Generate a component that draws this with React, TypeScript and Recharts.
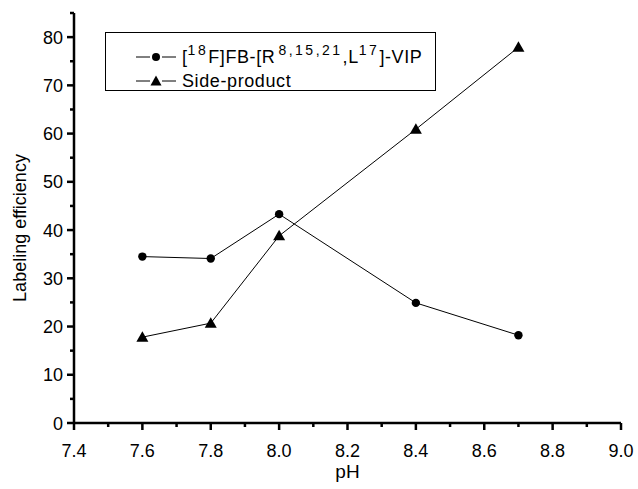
import { Label, Line, LineChart, XAxis, YAxis } from 'recharts'

const phValues = [7.6, 7.8, 8.0, 8.4, 8.7]
const vipEfficiency = [34.5, 34.1, 43.3, 24.9, 18.2]
const sideProduct = [17.8, 20.7, 38.8, 60.9, 77.9]

const xTicks = [7.4, 7.5, 7.6, 7.7, 7.8, 7.9, 8.0, 8.1, 8.2, 8.3, 8.4, 8.5, 8.6, 8.7, 8.8, 8.9, 9.0]
const yTicks = [0, 5, 10, 15, 20, 25, 30, 35, 40, 45, 50, 55, 60, 65, 70, 75, 80, 85]

const data = phValues.map((ph, i) => ({
  ph,
  vip: vipEfficiency[i],
  side: sideProduct[i],
}))

const FONT = "Arial, 'Liberation Sans', sans-serif"

function XTick(props: any) {
  const { x, y, payload } = props
  const v = Number(payload.value)
  const major = Math.round(v * 10) % 2 === 0
  return (
    <g>
      <line x1={x} x2={x} y1={y} y2={y + (major ? 7 : 4)} stroke="#000" strokeWidth={2.5} />
      {major && (
        <text x={x} y={y + 34} textAnchor="middle" fontSize={18} fontFamily={FONT} fill="#000">
          {v.toFixed(1)}
        </text>
      )}
    </g>
  )
}

function YTick(props: any) {
  const { x, y, payload } = props
  const v = Number(payload.value)
  const major = v % 10 === 0
  return (
    <g>
      <line x1={x} x2={x - (major ? 7 : 4)} y1={y} y2={y} stroke="#000" strokeWidth={2.5} />
      {major && (
        <text x={x - 11} y={y + 6.5} textAnchor="end" fontSize={18} fontFamily={FONT} fill="#000">
          {v}
        </text>
      )}
    </g>
  )
}

function CircleDot(props: any) {
  const { cx, cy } = props
  if (cx == null || cy == null) return null
  return <circle cx={cx} cy={cy} r={4.2} fill="#000" />
}

function TriangleDot(props: any) {
  const { cx, cy } = props
  if (cx == null || cy == null) return null
  return <polygon points={`${cx},${cy - 6} ${cx - 6},${cy + 4.5} ${cx + 6},${cy + 4.5}`} fill="#000" />
}

function LegendSwatch({ shape }: { shape: 'circle' | 'triangle' }) {
  return (
    <svg width={40} height={14} style={{ display: 'block' }}>
      <line x1={0} x2={14} y1={7} y2={7} stroke="#000" strokeWidth={1} />
      <line x1={26} x2={40} y1={7} y2={7} stroke="#000" strokeWidth={1} />
      {shape === 'circle' ? (
        <circle cx={20} cy={7} r={4} fill="#000" />
      ) : (
        <polygon points="20,1.5 14.5,11.5 25.5,11.5" fill="#000" />
      )}
    </svg>
  )
}

const sup: React.CSSProperties = { fontSize: 14, position: 'relative', top: -8, letterSpacing: 2.5 }

function ChartLegend() {
  const row: React.CSSProperties = {
    position: 'absolute',
    left: 30,
    height: 24,
    display: 'flex',
    alignItems: 'center',
    whiteSpace: 'nowrap',
  }
  return (
    <div
      style={{
        position: 'absolute',
        left: 105,
        top: 32,
        width: 331,
        height: 59,
        boxSizing: 'border-box',
        border: '1.5px solid #000',
        fontFamily: FONT,
        fontSize: 18,
        color: '#000',
        background: '#fff',
      }}
    >
      <div style={{ ...row, top: 12 }}>
        <LegendSwatch shape="circle" />
        <span style={{ marginLeft: 6, letterSpacing: 0.6 }}>
          [<span style={sup}>18</span>F]FB-[R<span style={{ ...sup, marginLeft: 3 }}>8,15,21</span>,L<span style={sup}>17</span>]-VIP
        </span>
      </div>
      <div style={{ ...row, top: 36 }}>
        <LegendSwatch shape="triangle" />
        <span style={{ marginLeft: 6, letterSpacing: 0.6 }}>Side-product</span>
      </div>
    </div>
  )
}

export default function App() {
  return (
    <div style={{ position: 'absolute', left: 0, top: 0, width: 638, height: 489, background: '#fff' }}>
      <LineChart
        width={638}
        height={489}
        data={data}
        margin={{ top: 13, right: 17, bottom: 0, left: 0 }}
        style={{ fontFamily: FONT }}
      >
        <XAxis
          dataKey="ph"
          type="number"
          domain={[7.4, 9.0]}
          ticks={xTicks}
          interval={0}
          height={66}
          tickSize={0}
          tickMargin={0}
          tickLine={false}
          axisLine={{ stroke: '#000', strokeWidth: 2.5 }}
          tick={<XTick />}
        >
          <Label
            content={(p: any) => {
              const vb = p.viewBox
              return (
                <text x={vb.x + vb.width / 2} y={vb.y + 55} textAnchor="middle" fontSize={19} fontFamily={FONT} fill="#000">
                  pH
                </text>
              )
            }}
          />
        </XAxis>
        <YAxis
          type="number"
          domain={[0, 85]}
          ticks={yTicks}
          interval={0}
          width={74}
          tickSize={0}
          tickMargin={0}
          tickLine={false}
          axisLine={{ stroke: '#000', strokeWidth: 2.5 }}
          tick={<YTick />}
        >
          <Label
            content={(p: any) => {
              const vb = p.viewBox
              const cx = 26
              const cy = vb.y + vb.height / 2 + 10
              return (
                <text
                  x={cx}
                  y={cy}
                  transform={`rotate(-90 ${cx} ${cy})`}
                  textAnchor="middle"
                  fontSize={18}
                  fontFamily={FONT}
                  fill="#000"
                >
                  Labeling efficiency
                </text>
              )
            }}
          />
        </YAxis>
        <Line
          dataKey="vip"
          stroke="#000"
          strokeWidth={1}
          dot={<CircleDot />}
          activeDot={false}
          isAnimationActive={false}
        />
        <Line
          dataKey="side"
          stroke="#000"
          strokeWidth={1}
          dot={<TriangleDot />}
          activeDot={false}
          isAnimationActive={false}
        />
      </LineChart>
      <ChartLegend />
    </div>
  )
}
